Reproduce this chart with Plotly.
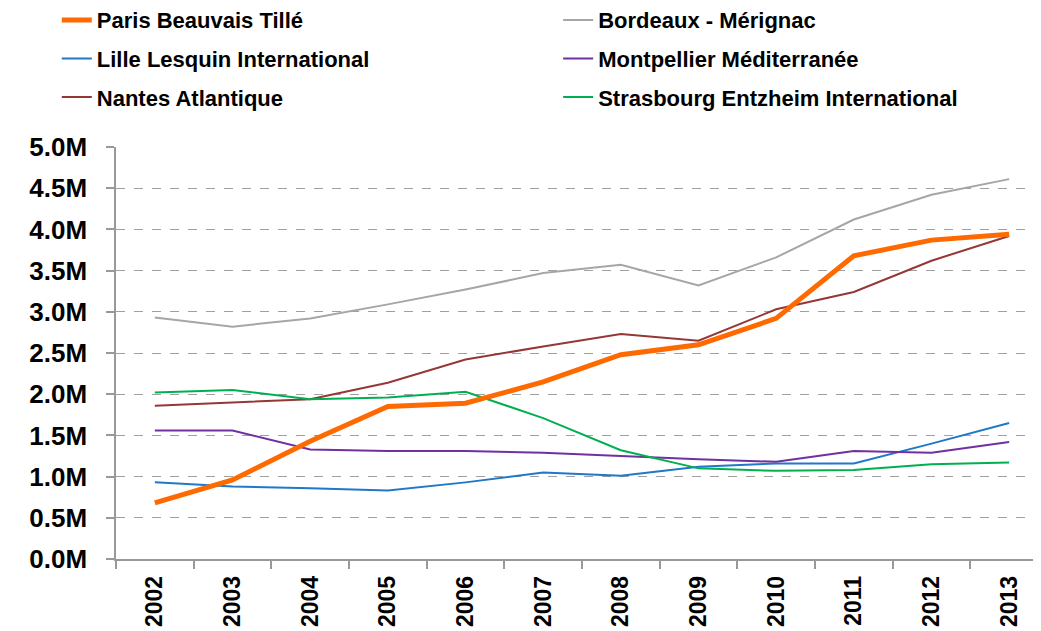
import plotly.graph_objects as go

# passengers per year, millions
years = ['2002', '2003', '2004', '2005', '2006', '2007',
         '2008', '2009', '2010', '2011', '2012', '2013']

paris_beauvais = [0.68, 0.96, 1.43, 1.85, 1.89, 2.15, 2.48, 2.60, 2.92, 3.68, 3.87, 3.94]
bordeaux = [2.93, 2.82, 2.92, 3.09, 3.27, 3.47, 3.57, 3.32, 3.66, 4.12, 4.42, 4.61]
lille = [0.93, 0.88, 0.86, 0.83, 0.93, 1.05, 1.01, 1.12, 1.16, 1.16, 1.40, 1.65]
montpellier = [1.56, 1.56, 1.33, 1.31, 1.31, 1.29, 1.25, 1.21, 1.18, 1.31, 1.29, 1.42]
nantes = [1.86, 1.90, 1.94, 2.14, 2.42, 2.58, 2.73, 2.65, 3.03, 3.24, 3.62, 3.92]
strasbourg = [2.02, 2.05, 1.94, 1.96, 2.03, 1.71, 1.32, 1.10, 1.07, 1.08, 1.15, 1.17]

y_ticks = [0, 0.5, 1, 1.5, 2, 2.5, 3, 3.5, 4, 4.5, 5]
y_labels = ['0.0M', '0.5M', '1.0M', '1.5M', '2.0M', '2.5M',
            '3.0M', '3.5M', '4.0M', '4.5M', '5.0M']

series = [
    ('Paris Beauvais Tillé', paris_beauvais, '#FF6A00', 5, 'legend'),
    ('Bordeaux - Mérignac', bordeaux, '#A6A6A6', 2, 'legend2'),
    ('Lille Lesquin International', lille, '#1F78C8', 2, 'legend'),
    ('Montpellier Méditerranée', montpellier, '#7030A0', 2, 'legend2'),
    ('Nantes Atlantique', nantes, '#953735', 2, 'legend'),
    ('Strasbourg Entzheim International', strasbourg, '#00B050', 2, 'legend2'),
]

fig = go.Figure()
# thin lines first so the orange one sits on top
for name, vals, color, w, leg in sorted(series, key=lambda s: s[3]):
    fig.add_trace(go.Scatter(x=years, y=vals, name=name, mode='lines',
                             line=dict(color=color, width=w),
                             legend=leg, legendgroup=name))

order = {s[0]: i for i, s in enumerate(series)}
for tr in fig.data:
    tr.legendrank = order[tr.name]

legend_font = dict(family='Liberation Sans, Arial, sans-serif', size=22,
                   color='black', weight='bold')
legend_common = dict(font=legend_font, bgcolor='rgba(0,0,0,0)',
                     orientation='v', tracegroupgap=7, traceorder='grouped',
                     xanchor='left', yanchor='top', y=1.359)

# page body has an 8px margin, so the figure is a bit smaller than the window
fig.update_layout(
    width=1033, height=623,
    margin=dict(l=108, r=0, t=139, b=72, autoexpand=False),
    paper_bgcolor='white', plot_bgcolor='white',
    font=dict(family='Liberation Sans, Arial, sans-serif', color='black'),
    showlegend=True,
    legend=dict(x=-0.064, **legend_common),
    legend2=dict(x=0.478, **legend_common),
    xaxis=dict(type='category', range=[-0.5, 11.41],
               tickson='boundaries', ticks='outside', ticklen=8,
               tickcolor='#999999', tickwidth=1.5,
               showline=True, linecolor='#999999', linewidth=1.5,
               showgrid=False, tickangle=-90,
               tickfont=dict(size=23, color='black', weight='bold'),
               ticklabelstandoff=6, automargin=False),
    yaxis=dict(range=[0, 5], tickvals=y_ticks, ticktext=y_labels,
               ticks='outside', ticklen=8, tickcolor='#999999', tickwidth=1.5,
               showline=True, linecolor='#999999', linewidth=1.5,
               showgrid=True, gridcolor='#A0A0A0', griddash='dash', gridwidth=1.2,
               zeroline=False,
               tickfont=dict(size=26, color='black', weight='bold'),
               ticklabelstandoff=14, automargin=False),
)

fig.write_html('out.html')
